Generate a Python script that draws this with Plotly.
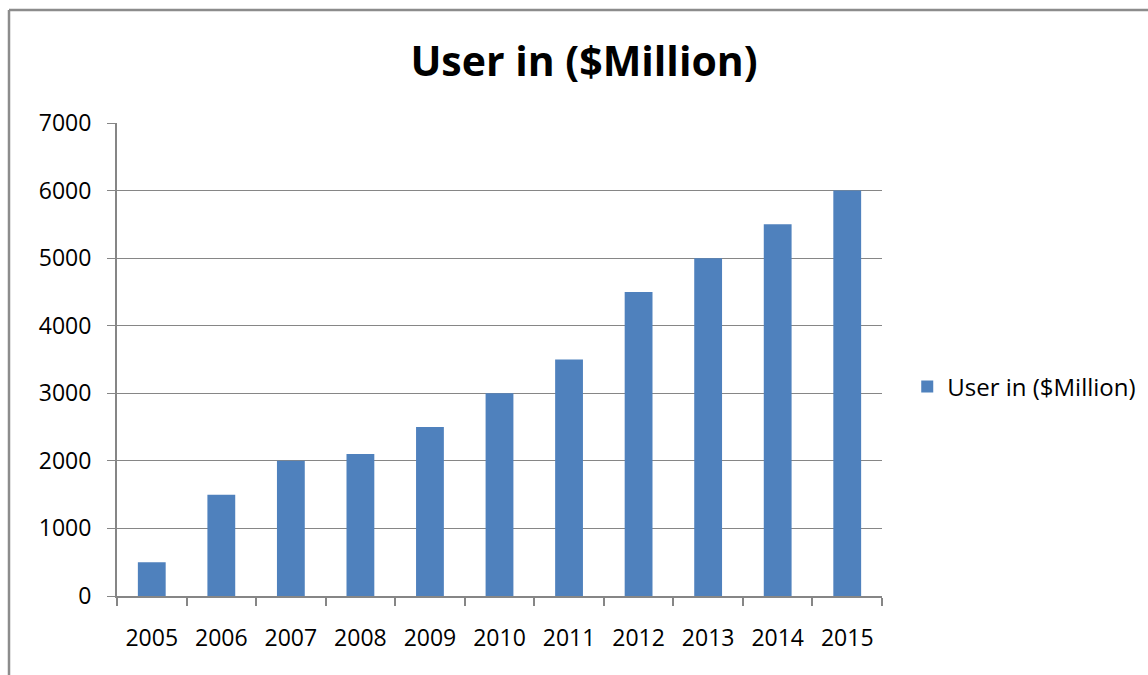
import plotly.graph_objects as go

years = ["2005", "2006", "2007", "2008", "2009", "2010", "2011", "2012", "2013", "2014", "2015"]
users = [500, 1500, 2000, 2100, 2500, 3000, 3500, 4500, 5000, 5500, 6000]
series_name = "User in ($Million)"
y_ticks = [0, 1000, 2000, 3000, 4000, 5000, 6000, 7000]

W, H = 1148, 675
L, R, T, B = 117, 882, 123, 596

fig = go.Figure()
fig.add_trace(go.Bar(x=years, y=users, name=series_name, width=0.4,
                     marker=dict(color="#4F81BD", line=dict(width=0))))

fig.update_layout(
    width=W, height=H,
    margin=dict(l=L, r=W - R, t=T, b=H - B, autoexpand=False),
    paper_bgcolor="white", plot_bgcolor="white",
    font=dict(family="Open Sans", size=23, color="black"),
    showlegend=True,
    title=dict(text="<b>" + series_name + "</b>", x=584 / W, xanchor="center",
               y=1 - 62 / H, yanchor="middle",
               font=dict(family="Open Sans", size=41, color="black")),
    legend=dict(x=1.033, xanchor="left", y=(B - 387) / (B - T), yanchor="middle",
                font=dict(size=24), bgcolor="rgba(0,0,0,0)"),
    bargap=0.6,
)
fig.update_xaxes(type="category", showline=True, linecolor="#868686", linewidth=2,
                 ticks="outside", tickson="boundaries", ticklen=8, tickcolor="#868686",
                 tickwidth=2, showgrid=False, tickfont=dict(size=23), ticklabelstandoff=20)
fig.update_yaxes(range=[0, 7000], tickvals=y_ticks, showline=True, linecolor="#868686",
                 linewidth=2, ticks="outside", ticklen=8, tickcolor="#868686", tickwidth=1,
                 showgrid=True, gridcolor="#868686", gridwidth=1, zeroline=False,
                 tickfont=dict(size=23), ticklabelstandoff=11)

# outer chart border (left and top edges visible)
fig.add_shape(type="line", xref="paper", yref="paper",
              x0=(9 - L) / (R - L), x1=(9 - L) / (R - L),
              y0=(B - 10) / (B - T), y1=(B - 700) / (B - T),
              line=dict(color="#8c8c8c", width=2.5))
fig.add_shape(type="line", xref="paper", yref="paper",
              x0=(9 - L) / (R - L), x1=(1200 - L) / (R - L),
              y0=(B - 10) / (B - T), y1=(B - 10) / (B - T),
              line=dict(color="#8c8c8c", width=2.5))

fig.write_html("out.html")
